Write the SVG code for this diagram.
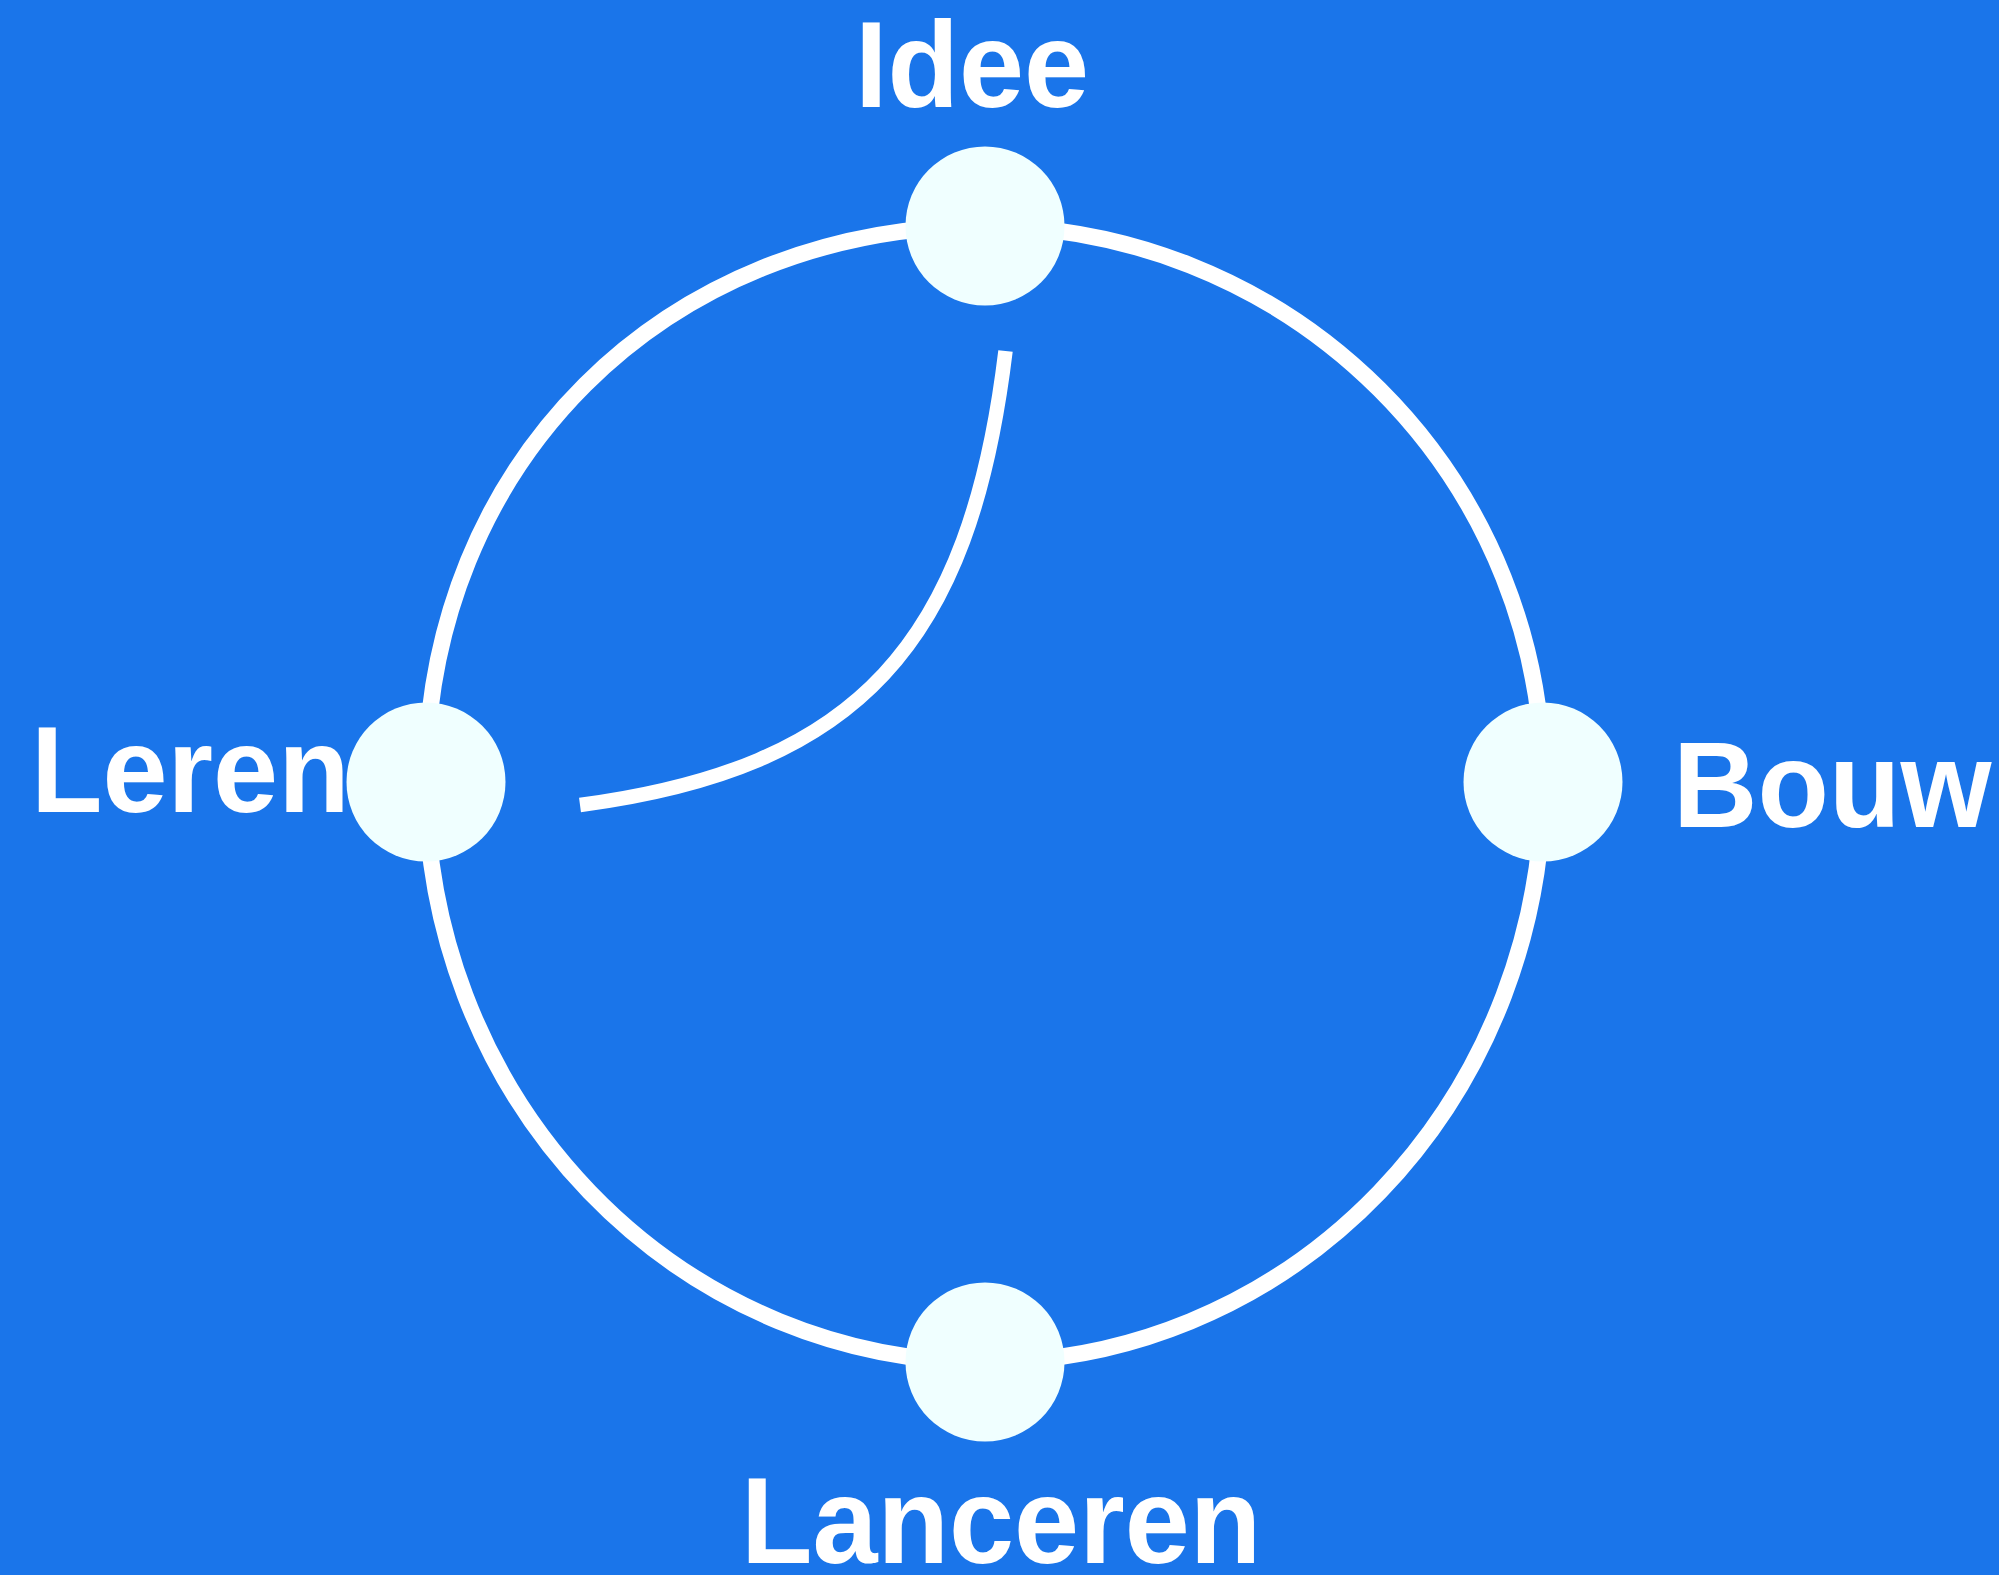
<svg xmlns="http://www.w3.org/2000/svg" width="1999" height="1575" viewBox="0 0 1999 1575" shape-rendering="geometricPrecision">
  <style>
    .bg { fill: #1a75ea; }
    .ring { fill: none; stroke: #ffffff; stroke-width: 16.5; }
    .flow { fill: none; stroke: #ffffff; stroke-width: 14.5; stroke-linecap: butt; }
    .node { fill: #f0ffff; }
    .label { fill: #ffffff; font-family: "Liberation Sans", Arial, sans-serif; font-weight: bold; font-size: 117px; }
  </style>
  <rect class="bg" x="0" y="0" width="1999" height="1575"/>
  <g id="connectors">
    <path class="ring" d="M 985 226 A 559 557 0 0 1 1543 782"/>
    <path class="ring" d="M 1543 782 A 558 580 0 0 1 985 1362"/>
    <path class="ring" d="M 985 1362 A 559 580 0 0 1 426 782"/>
    <path class="ring" d="M 426 782 C 426 464 664 226 985 226"/>
    <path class="flow" d="M 1005.5 351 C 970 645 858 768 580 805"/>
  </g>
  <g id="node-idee">
    <circle class="node" cx="985" cy="226" r="79.5"/>
    <text class="label" transform="translate(855 107) scale(1 1.045)">Idee</text>
  </g>
  <g id="node-bouw">
    <circle class="node" cx="1543" cy="782" r="79.5"/>
    <text class="label" transform="translate(1673 827) scale(1 1.045)">Bouw</text>
  </g>
  <g id="node-lanceren">
    <circle class="node" cx="985" cy="1362" r="79.5"/>
    <text class="label" transform="translate(741 1563) scale(1 1.045)">Lanceren</text>
  </g>
  <g id="node-leren">
    <circle class="node" cx="426" cy="782" r="79.5"/>
    <text class="label" transform="translate(31 812) scale(1 1.045)">Leren</text>
  </g>
</svg>
